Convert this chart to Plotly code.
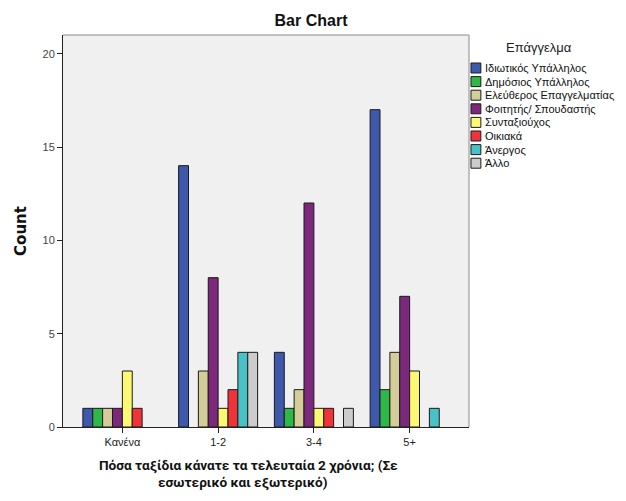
import plotly.graph_objects as go

categories = ["Κανένα", "1-2", "3-4", "5+"]
series_names = ["Ιδιωτικός Υπάλληλος", "Δημόσιος Υπάλληλος", "Ελεύθερος Επαγγελματίας",
                "Φοιτητής/ Σπουδαστής", "Συνταξιούχος", "Οικιακά", "Άνεργος", "Άλλο"]
idiotikos = [1, 14, 4, 17]
dimosios = [1, None, 1, 2]
eleftheros = [1, 3, 2, 4]
foititis = [1, 8, 12, 7]
syntaxiouchos = [3, 1, 1, 3]
oikiaka = [1, 2, 1, None]
anergos = [None, 4, None, 1]
allo = [None, 4, 1, None]
series_values = [idiotikos, dimosios, eleftheros, foititis, syntaxiouchos, oikiaka, anergos, allo]
colors = ["#3E58AC", "#2EB848", "#D3CE97", "#7C287D", "#FBF873", "#EF3338", "#48C2C5", "#CCCCCC"]
y_ticks = [0, 5, 10, 15, 20]
x_title_lines = ["Πόσα ταξίδια κάνατε τα τελευταία 2 χρόνια; (Σε", "εσωτερικό και εξωτερικό)"]

W, H = 626, 501
OFF = 8  # page body margin offset
L, R, T, B = 58, 469, 35, 427  # target plot-area edges in page pixels

fig = go.Figure()
for name, vals, col in zip(series_names, series_values, colors):
    fig.add_trace(go.Bar(x=categories, y=vals, name=name, marker_color=col,
                         marker_line_color="#1a1a1a", marker_line_width=1,
                         showlegend=False))

def px_x(p):
    return (p - L) / (R - L)

def px_y(p):
    return (B - p) / (B - T)

shapes = [
    dict(type="line", xref="paper", yref="paper", x0=0, x1=1, y0=1, y1=1,
         line=dict(color="#8a8a8a", width=1)),
    dict(type="line", xref="paper", yref="paper", x0=1, x1=1, y0=0, y1=1,
         line=dict(color="#8a8a8a", width=1)),
]
annotations = [
    dict(text="Επάγγελμα", xref="paper", yref="paper", x=px_x(540), y=px_y(47),
         showarrow=False, xanchor="center", yanchor="middle",
         font=dict(family="Liberation Sans, Arial", size=13, color="#222")),
]
for line, cx, cy in zip(x_title_lines, [246, 240], [465, 482]):
    annotations.append(dict(text="<b>" + line + "</b>", xref="paper", yref="paper",
                            x=px_x(cx), y=px_y(cy), showarrow=False,
                            xanchor="center", yanchor="middle",
                            font=dict(family="Roboto, Liberation Sans", size=13.6, color="#111")))
for i, (name, col) in enumerate(zip(series_names, colors)):
    cy = 68 + i * 13.6
    shapes.append(dict(type="rect", xref="paper", yref="paper",
                       x0=px_x(471), x1=px_x(481), y0=px_y(cy - 5), y1=px_y(cy + 5),
                       fillcolor=col, line=dict(color="#1a1a1a", width=1)))
    annotations.append(dict(text=name, xref="paper", yref="paper", x=px_x(483), y=px_y(cy),
                            showarrow=False, xanchor="left", yanchor="middle",
                            font=dict(family="Liberation Sans, Arial", size=11, color="#111")))

fig.update_layout(
    width=W, height=H,
    margin=dict(l=L - OFF, r=W + OFF - R, t=T - OFF, b=H + OFF - B),
    paper_bgcolor="white", plot_bgcolor="#F0F0F0",
    barmode="group", bargap=0.175, bargroupgap=0,
    title=dict(text="<b>Bar Chart</b>", x=(311 - OFF) / W, xanchor="center",
               y=1 - (20 - OFF) / H, yanchor="middle",
               font=dict(family="Liberation Sans, Arial", size=16, color="#111")),
    xaxis=dict(range=[-0.62, 3.62], showgrid=False, showline=True, linecolor="#222", linewidth=1,
               ticks="outside", ticklen=5, tickcolor="#222",
               tickfont=dict(family="Liberation Sans, Arial", size=11, color="#222")),
    yaxis=dict(range=[0, 21], tickvals=y_ticks, showgrid=False, zeroline=False,
               showline=True, linecolor="#222", linewidth=1,
               ticks="outside", ticklen=5, tickcolor="#222",
               tickfont=dict(family="Liberation Sans, Arial", size=11, color="#444"),
               title=dict(text="<b>Count</b>", standoff=12,
                          font=dict(family="DejaVu Sans, Verdana", size=15, color="#111"))),
    shapes=shapes, annotations=annotations,
)

fig.write_html("out.html")
